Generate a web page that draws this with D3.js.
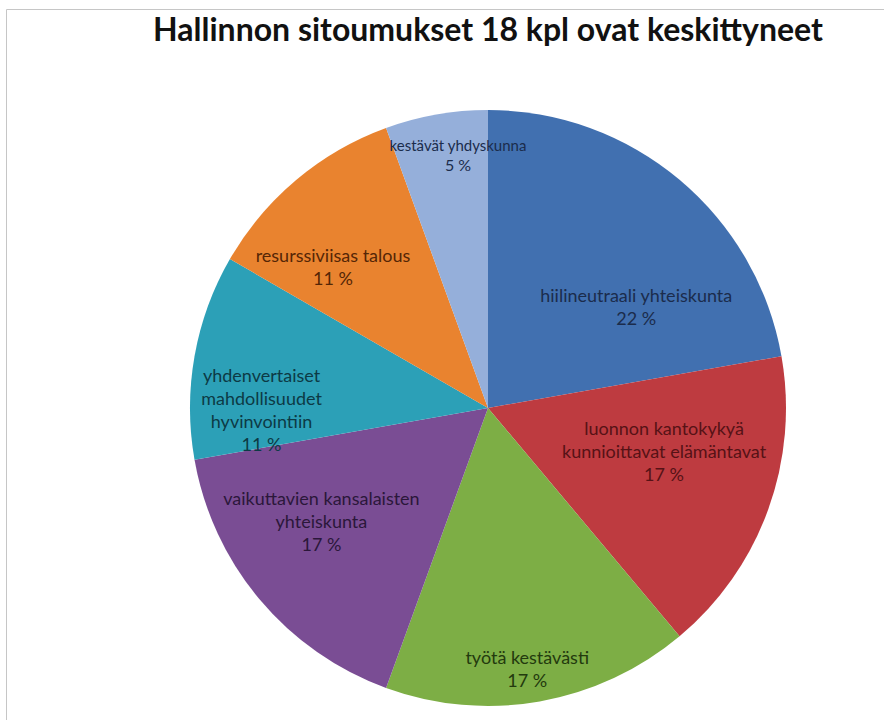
<!DOCTYPE html>
<html>
  <head>
    <meta charset="utf-8">
    <title>Hallinnon sitoumukset</title>
    <style>
      body { margin: 0; background: #fff; }
      .title { font-family: Lato, "Open Sans", sans-serif; font-weight: bold; font-size: 32px; }
      .label { font-family: Lato, "Open Sans", sans-serif; font-size: 18px; }
    </style>
  </head>
  <body>
    <div id="chart"></div>
    <script src="https://d3js.org/d3.v7.min.js"></script>
    <script>
      // categories, one entry per slice, line breaks as in the picture
      var categories = [
        'hiilineutraali yhteiskunta',
        'luonnon kantokykyä\nkunnioittavat elämäntavat',
        'työtä kestävästi',
        'vaikuttavien kansalaisten\nyhteiskunta',
        'yhdenvertaiset\nmahdollisuudet\nhyvinvointiin',
        'resurssiviisas talous',
        'kestävät yhdyskunna'
      ];
      var counts = [4, 3, 3, 3, 2, 2, 1];            // sitoumukset, 18 kpl
      var shareLabels = [22, 17, 17, 17, 11, 11, 5]; // % as printed on the slices
      var titleText = 'Hallinnon sitoumukset 18 kpl ovat keskittyneet';

      (function(d3) {
        'use strict';
        var width = 884, height = 720;
        var cx = 488, cy = 408, radius = 298;

        var fills = ['#4170B0', '#BE3B40', '#7DAE45', '#7A4D94', '#2CA0B7', '#E9832F', '#95AFDA'];
        var inks  = ['#1B2C4C', '#561216', '#233A0E', '#2B173A', '#0C3A45', '#552606', '#1B2C4C'];
        // label placement tweaks (fraction of radius, angle shift in degrees)
        var labelR     = [0.60, 0.61, 0.89, 0.68, 0.76, 0.70, 0.85];
        var labelShift = [16, -5.6, 1.5, 5.3, -10.8, -8, 3.2];

        var color = d3.scaleOrdinal().domain(categories).range(fills);
        var ink = d3.scaleOrdinal().domain(categories).range(inks);

        var svg = d3.select('#chart').append('svg')
          .attr('width', width)
          .attr('height', height);

        // frame of the original chart area
        svg.append('path')
          .attr('d', 'M6.5,' + height + 'V9.5H' + width)
          .attr('fill', 'none')
          .attr('stroke', '#c6c6c6');

        svg.append('text')
          .attr('class', 'title')
          .attr('x', cx)
          .attr('y', 41)
          .attr('text-anchor', 'middle')
          .attr('fill', '#111')
          .text(titleText);

        var dataset = categories.map(function(c, i) {
          return { label: c, count: counts[i], share: shareLabels[i], i: i };
        });

        var pie = d3.pie().value(function(d) { return d.count; }).sort(null);
        var arc = d3.arc().innerRadius(0).outerRadius(radius);

        var g = svg.append('g').attr('transform', 'translate(' + cx + ',' + cy + ')');

        var arcs = pie(dataset);

        g.selectAll('path')
          .data(arcs)
          .enter()
          .append('path')
          .attr('d', arc)
          .attr('fill', function(d) { return color(d.data.label); });

        var lh = 23;
        g.selectAll('.label')
          .data(arcs)
          .enter()
          .append('text')
          .attr('class', 'label')
          .attr('text-anchor', 'middle')
          .attr('fill', function(d) { return ink(d.data.label); })
          .each(function(d) {
            var i = d.data.i;
            var small = d.data.count < 2;
            var a = (d.startAngle + d.endAngle) / 2 + labelShift[i] * Math.PI / 180;
            var r = radius * labelR[i];
            var x = Math.sin(a) * r, y = -Math.cos(a) * r;
            var lines = d.data.label.split('\n').concat([d.data.share + ' %']);
            var step = small ? 20 : lh;
            var y0 = y + 5 - (lines.length - 1) * step / 2;
            var t = d3.select(this);
            lines.forEach(function(s, k) {
              t.append('tspan')
                .attr('x', x)
                .attr('y', y0 + k * step)
                .style('font-size', small ? (k === lines.length - 1 ? '16px' : '15px') : null)
                .text(s);
            });
          });
      })(window.d3);
    </script>
  </body>
</html>
